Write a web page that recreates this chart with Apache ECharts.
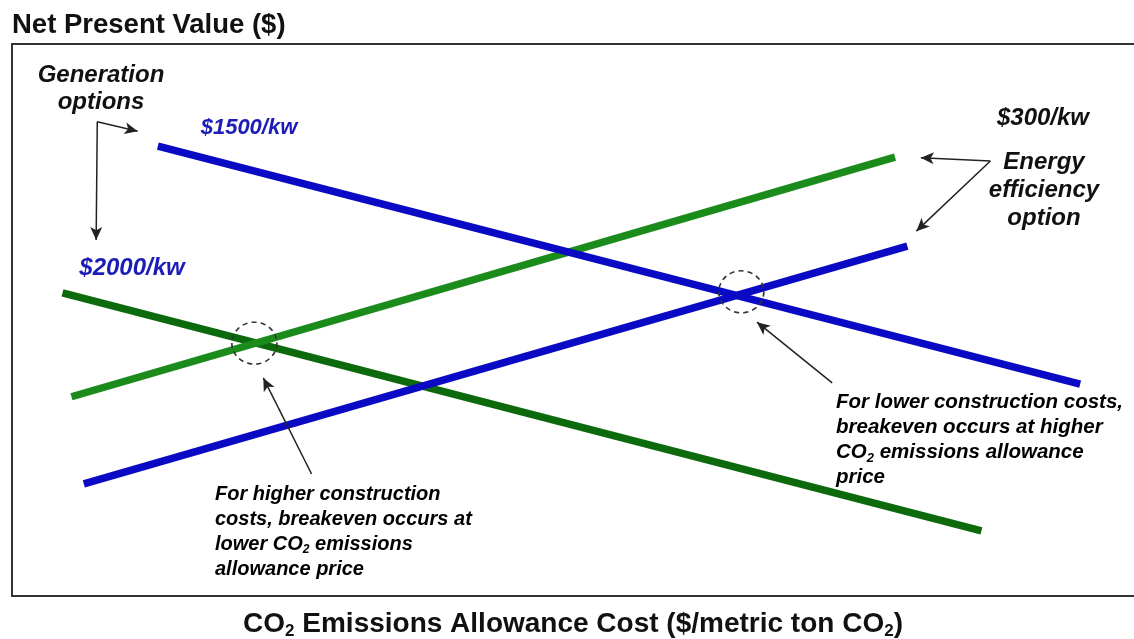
<!DOCTYPE html>
<html>
<head>
<meta charset="utf-8">
<script src="https://cdn.jsdelivr.net/npm/echarts@6/dist/echarts.min.js"></script>
<style>
html,body{margin:0;padding:0;background:#fff;width:100%;height:100%;overflow:hidden;}
#c{width:100vw;height:100vh;}
</style>
</head>
<body>
<div id="c"></div>
<script>
// Data (arbitrary axis units 0-100 on both axes)
const xRange = [0, 100];
const yRange = [0, 100];
const gen1500 = [[13.0, 81.5], [95.2, 38.4]];      // generation option, $1500/kw (blue, falling)
const gen2000 = [[4.5, 54.9], [86.4, 11.8]];       // generation option, $2000/kw (dark green, falling)
const eeVs1500 = [[6.4, 20.3], [79.8, 63.4]];      // energy efficiency option (blue, rising)
const eeVs2000 = [[5.3, 36.1], [78.7, 79.5]];      // energy efficiency option (green, rising)
const breakevenPts = [[21.6, 45.8], [65.0, 55.1]];
const arrowsData = [
  [[7.6, 85.9], [11.2, 84.2]],
  [[7.6, 85.9], [7.5, 64.5]],
  [[87.2, 78.8], [81.0, 79.4]],
  [[87.2, 78.8], [80.6, 66.1]],
  [[26.7, 22.1], [22.4, 39.5]],
  [[73.1, 38.6], [66.4, 49.6]]
];

const BLUE = '#0a0ac4';
const GREEN = '#1b8c1b';
const DKGREEN = '#0c6a0c';
const FONT = 'Liberation Sans, Arial, Helvetica, sans-serif';
const BORDER = { show: true, lineStyle: { color: '#333', width: 2 } };

const chart = echarts.init(document.getElementById('c'));
const lineSeries = (data, color) => ({
  type: 'line', data, symbol: 'none', silent: true, animation: false,
  lineStyle: { color, width: 7.5, cap: 'butt' }
});
const subRich = (size) => ({
  n: { fontSize: size, fontWeight: 'bold', fontStyle: 'italic', fontFamily: FONT, color: '#111' },
  s: { fontSize: Math.round(size * 0.62), fontWeight: 'bold', fontStyle: 'italic', fontFamily: FONT, color: '#111', padding: [Math.round(size * 0.55), 0, 0, 0] }
});
const hidden = { axisTick: { show: false }, axisLabel: { show: false }, splitLine: { show: false } };

chart.setOption({
  animation: false,
  grid: { left: 12, top: 44, right: 0, bottom: 43, containLabel: false, outerBoundsMode: 'none' },
  xAxis: [
    Object.assign({
      type: 'value', min: xRange[0], max: xRange[1], position: 'bottom', axisLine: BORDER,
      name: '{n|CO}{s|2}{n| Emissions Allowance Cost ($/metric ton CO}{s|2}{n|)}',
      nameLocation: 'middle', nameGap: 12,
      nameTextStyle: {
        rich: {
          n: { fontSize: 28, fontWeight: 'bold', fontFamily: FONT, color: '#111' },
          s: { fontSize: 17, fontWeight: 'bold', fontFamily: FONT, color: '#111', padding: [15, 0, 0, 0] }
        }
      }
    }, hidden),
    Object.assign({ type: 'value', min: xRange[0], max: xRange[1], position: 'top', axisLine: BORDER }, hidden)
  ],
  yAxis: Object.assign({
    type: 'value', min: yRange[0], max: yRange[1], position: 'left', axisLine: BORDER,
    name: 'Net Present Value ($)', nameLocation: 'end', nameGap: 5,
    nameTextStyle: { align: 'left', fontSize: 27.5, fontWeight: 'bold', fontFamily: FONT, color: '#111' }
  }, hidden),
  series: [
    lineSeries(gen2000, DKGREEN),
    lineSeries(eeVs2000, GREEN),
    lineSeries(gen1500, BLUE),
    lineSeries(eeVs1500, BLUE),
    {
      type: 'line', data: [], silent: true,
      markLine: {
        silent: true, animation: false, symbol: ['none', 'arrow'], symbolSize: [9, 13],
        label: { show: false },
        lineStyle: { color: '#222', width: 1.5, type: 'solid' },
        data: arrowsData.map(a => [{ coord: a[0] }, { coord: a[1] }])
      },
      markPoint: {
        silent: true, animation: false, symbol: 'circle', symbolSize: [45, 42],
        label: { show: false },
        itemStyle: { color: 'rgba(0,0,0,0)', borderColor: '#333', borderWidth: 1.6, borderType: [5, 4] },
        data: breakevenPts.map(p => ({ coord: p }))
      }
    }
  ],
  graphic: [
    { type: 'text', x: 101, y: 62, silent: true, style: { text: 'Generation\noptions', align: 'center', verticalAlign: 'top', lineHeight: 27, font: 'italic bold 24px ' + FONT, fill: '#111' } },
    { type: 'text', x: 249, y: 128, silent: true, style: { text: '$1500/kw', align: 'center', verticalAlign: 'middle', font: 'italic bold 22px ' + FONT, fill: '#1c1cb8' } },
    { type: 'text', x: 132, y: 268, silent: true, style: { text: '$2000/kw', align: 'center', verticalAlign: 'middle', font: 'italic bold 24px ' + FONT, fill: '#1c1cb8' } },
    { type: 'text', x: 1043, y: 118, silent: true, style: { text: '$300/kw', align: 'center', verticalAlign: 'middle', font: 'italic bold 24px ' + FONT, fill: '#111' } },
    { type: 'text', x: 1044, y: 148, silent: true, style: { text: 'Energy\nefficiency\noption', align: 'center', verticalAlign: 'top', lineHeight: 28, font: 'italic bold 24px ' + FONT, fill: '#111' } },
    { type: 'text', x: 215, y: 482, silent: true, style: {
      text: '{n|For higher construction}\n{n|costs, breakeven occurs at}\n{n|lower CO}{s|2}{n| emissions}\n{n|allowance price}',
      align: 'left', verticalAlign: 'top', lineHeight: 25, rich: subRich(20) } },
    { type: 'text', x: 836, y: 390, silent: true, style: {
      text: '{n|For lower construction costs,}\n{n|breakeven occurs at higher}\n{n|CO}{s|2}{n| emissions allowance}\n{n|price}',
      align: 'left', verticalAlign: 'top', lineHeight: 25, rich: subRich(20.5) } }
  ]
});
</script>
</body>
</html>
